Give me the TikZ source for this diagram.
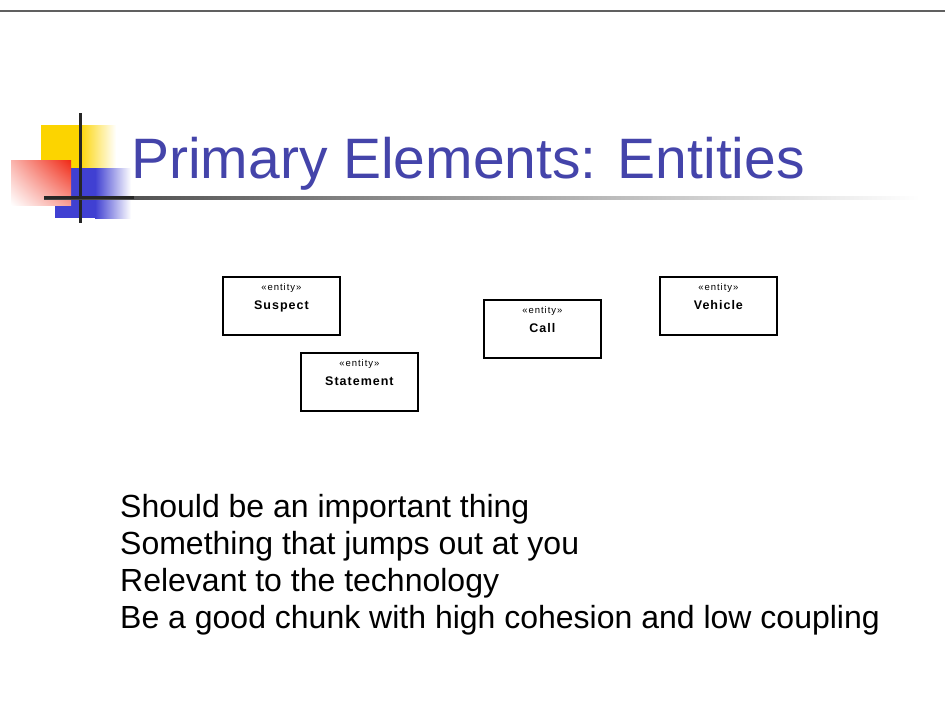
\documentclass[tikz,border=0pt]{standalone}
\usepackage{fontspec}
\setmainfont{Liberation Sans}
\newfontfamily\boxfont[LetterSpace=8]{Liberation Sans}
\newfontfamily\stereofont[LetterSpace=10]{Liberation Sans}
\usetikzlibrary{positioning,shadings}
\definecolor{titleblue}{RGB}{68,68,170}
\definecolor{logoyellow}{RGB}{252,212,0}
\definecolor{logored}{RGB}{240,40,20}
\definecolor{logoblue}{RGB}{64,64,210}
\tikzset{
  entitybox/.style={draw=black, line width=1.8pt, minimum width=117pt, minimum height=58pt, inner sep=0pt},
  stereo/.style={font=\stereofont\fontsize{9.5}{10}\selectfont, anchor=base, inner sep=0pt},
  ename/.style={font=\boxfont\bfseries\fontsize{12.5}{14}\selectfont, anchor=base, inner sep=0pt},
  bullet/.style={font=\fontsize{32}{37}\selectfont, anchor=base west, inner sep=0pt},
}
\begin{document}
\begin{tikzpicture}[x=1pt,y=-1pt]
\useasboundingbox (0,0) rectangle (945,721);
\fill[white] (0,0) rectangle (945,721);
% top rule
\draw[line width=2pt, gray!75!black] (0,10.5) -- (945,10.5);
% logo
\fill[logoyellow] (41,125) rectangle (79,168);
\shade[left color=logoyellow, right color=white] (79,125) rectangle (116,168);
\fill[logoblue] (55,168) rectangle (95,218);
\shade[left color=logoblue, right color=white] (95,168) rectangle (131,218);
\shade[upper right=logored, lower left=white, upper left=logored!35, lower right=logored!45] (11,160) rectangle (71,205);
\draw[line width=3pt, black!85] (80,113) -- (80,223);
\shade[left color=black!75, right color=white] (44,196.5) rectangle (920,199);
\draw[line width=2.5pt, black!85] (44,197.7) -- (134,197.7);
% title
\node[anchor=base west, inner sep=0pt, text=titleblue, font=\fontsize{57}{66}\selectfont] (title) at (131,178) {Primary Elements: Entities};
% entities
\node[entitybox, anchor=north west] (suspect) at (222,276) {};
\node[stereo] (suspectst) at ([yshift=-14]suspect.north) {«entity»};
\node[ename] (suspectnm) at ([yshift=-33]suspect.north) {Suspect};
\node[entitybox, anchor=north west] (statement) at (300,352) {};
\node[stereo] (statementst) at ([yshift=-14]statement.north) {«entity»};
\node[ename] (statementnm) at ([yshift=-33]statement.north) {Statement};
\node[entitybox, anchor=north west] (call) at (483,299) {};
\node[stereo] (callst) at ([yshift=-14]call.north) {«entity»};
\node[ename] (callnm) at ([yshift=-33]call.north) {Call};
\node[entitybox, anchor=north west] (vehicle) at (659,276) {};
\node[stereo] (vehiclest) at ([yshift=-14]vehicle.north) {«entity»};
\node[ename] (vehiclenm) at ([yshift=-33]vehicle.north) {Vehicle};
% bullets
\node[bullet] (b1) at (120,517) {Should be an important thing};
\node[bullet] (b2) at (120,554.5) {Something that jumps out at you};
\node[bullet] (b3) at (120,591.5) {Relevant to the technology};
\node[bullet] (b4) at (120,628.5) {Be a good chunk with high cohesion and low coupling};
\end{tikzpicture}
\end{document}
